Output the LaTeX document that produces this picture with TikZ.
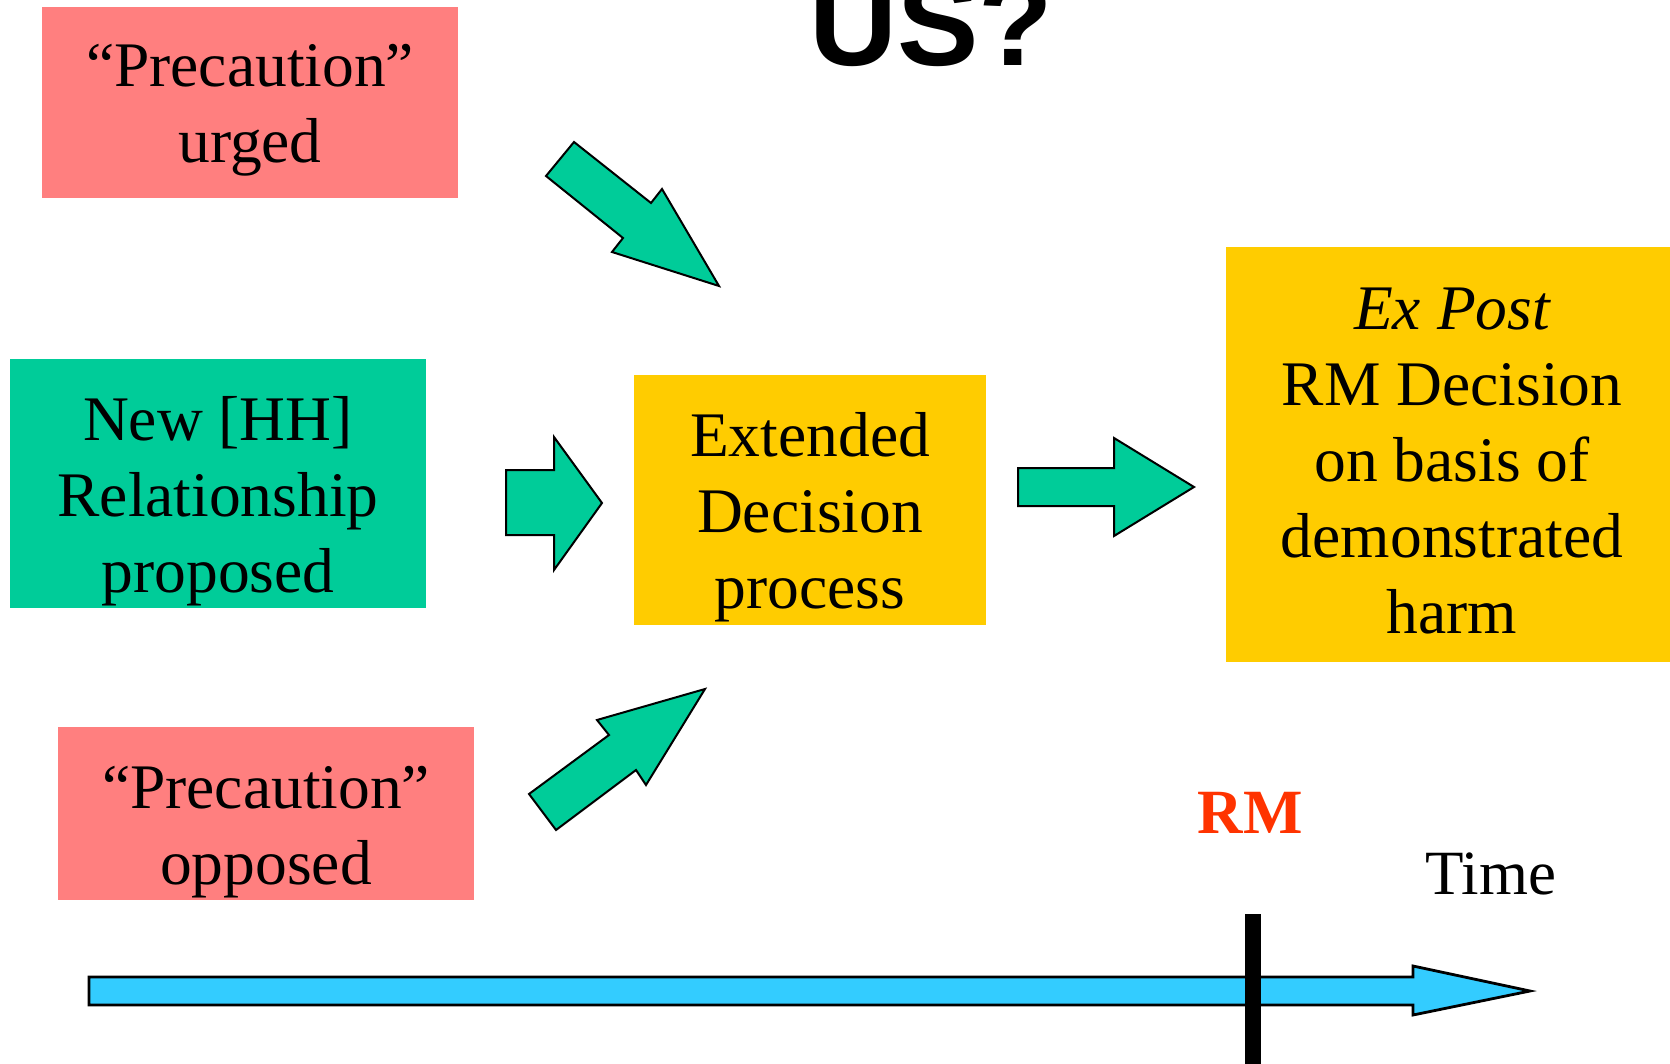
\documentclass[tikz,border=0pt]{standalone}
\usepackage{fontspec}
\setmainfont{Liberation Serif}
\newfontfamily\titlefont{Liberation Sans}
\definecolor{pinkfill}{HTML}{FF7F7F}
\definecolor{greenfill}{HTML}{00CC99}
\definecolor{yellowfill}{HTML}{FFCC00}
\definecolor{bluefill}{HTML}{33CCFF}
\definecolor{rmred}{HTML}{FF3300}
\begin{document}
\begin{tikzpicture}[x=0.5pt,y=-0.5pt,
  box/.style={draw=none, inner sep=0pt, outer sep=0pt},
  txt/.style={align=center, inner sep=0pt, anchor=base, font=\fontsize{31.75}{38}\selectfont},
  blockarrow/.style={fill=greenfill, draw=black, line width=1pt, line join=miter},
  timearrow/.style={fill=bluefill, draw=black, line width=1.4pt, line join=miter},
]
\useasboundingbox (0,0) rectangle (1670,1064);
\clip (0,0) rectangle (1670,1064);

% title (cut off at top)
\node[inner sep=0pt, anchor=base, font=\titlefont\bfseries\fontsize{61}{61}\selectfont] (title) at (931,66) {US?};

% boxes
\node[box, fill=pinkfill, minimum width=208pt, minimum height=95.5pt] (urgedbox) at (250,103) {};
\node[box, fill=greenfill, minimum width=208pt, minimum height=124.5pt] (newbox) at (218,483.5) {};
\node[box, fill=yellowfill, minimum width=176pt, minimum height=125pt] (extbox) at (810,500) {};
\node[box, fill=yellowfill, minimum width=227pt, minimum height=207.5pt] (expostbox) at (1453,454.5) {};
\node[box, fill=pinkfill, minimum width=208pt, minimum height=86.5pt] (opposedbox) at (266,813.5) {};

% texts (base anchor = baseline of the last line)
\node[txt] (urgedtxt) at (250,163) {“Precaution”\\urged};
\node[txt] (newtxt) at (218,592) {New [HH]\\Relationship\\proposed};
\node[txt] (exttxt) at (810,608) {Extended\\Decision\\process};
\node[txt] (exposttxt) at (1452,633) {\itshape Ex Post\\RM Decision\\on basis of\\demonstrated\\harm};
\node[txt] (opposedtxt) at (266,884) {“Precaution”\\opposed};

% block arrows
\draw[blockarrow] (546,176) -- (574,142) -- (651,203) -- (662,189) -- (719,286) -- (612,252) -- (623,238) -- cycle;
\draw[blockarrow] (529,794) -- (609,735) -- (597,720) -- (705,689) -- (646,785) -- (636,770) -- (556,830) -- cycle;
\draw[blockarrow] (506,470) -- (554,470) -- (554,437) -- (602,503) -- (554,570) -- (554,535) -- (506,535) -- cycle;
\draw[blockarrow] (1018,468) -- (1114,468) -- (1114,438) -- (1194,487) -- (1114,536) -- (1114,506) -- (1018,506) -- cycle;

% time line
\draw[timearrow] (89,977) -- (1413,977) -- (1413,966) -- (1530,991) -- (1413,1015) -- (1413,1005) -- (89,1005) -- cycle;
\coordinate (rmtop) at (1253,914);
\coordinate (rmbottom) at (1253,1070);
\draw[line width=8pt] (rmtop) -- (rmbottom);

\node[inner sep=0pt, anchor=base, text=rmred, font=\bfseries\fontsize{31.5}{38}\selectfont] (rm) at (1250,833) {RM};
\node[inner sep=0pt, anchor=base, font=\fontsize{31.5}{38}\selectfont] (time) at (1491,894) {Time};
\end{tikzpicture}
\end{document}
